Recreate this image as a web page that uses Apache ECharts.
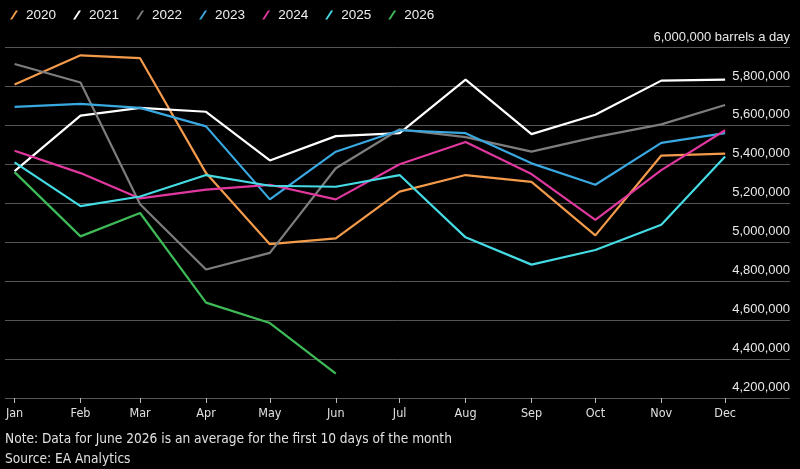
<!DOCTYPE html>
<html>
<head>
<meta charset="utf-8">
<script src="https://cdn.jsdelivr.net/npm/echarts@6/dist/echarts.min.js"></script>
<style>
  html, body { margin: 0; padding: 0; background: #000; }
  #chart { width: 800px; height: 469px; }
</style>
</head>
<body>
<div id="chart"></div>
<script>
// month labels and the day of year each month starts on
const months = ['Jan', 'Feb', 'Mar', 'Apr', 'May', 'Jun', 'Jul', 'Aug', 'Sep', 'Oct', 'Nov', 'Dec'];
const monthStart = [0, 31, 59, 90, 120, 151, 181, 212, 243, 273, 304, 334];

const years = ['2020', '2021', '2022', '2023', '2024', '2025', '2026'];
const y2020 = [5810000, 5960000, 5945000, 5355000, 4990000, 5020000, 5260000, 5345000, 5310000, 5035000, 5445000, 5455000];
const y2021 = [5365000, 5650000, 5690000, 5670000, 5420000, 5545000, 5560000, 5835000, 5555000, 5655000, 5830000, 5835000];
const y2022 = [5915000, 5820000, 5195000, 4860000, 4945000, 5380000, 5580000, 5540000, 5465000, 5540000, 5605000, 5705000];
const y2023 = [5695000, 5710000, 5690000, 5595000, 5220000, 5465000, 5575000, 5560000, 5405000, 5295000, 5510000, 5560000];
const y2024 = [5470000, 5355000, 5225000, 5270000, 5295000, 5220000, 5400000, 5515000, 5350000, 5115000, 5370000, 5575000];
const y2025 = [5410000, 5185000, 5235000, 5345000, 5290000, 5285000, 5345000, 5025000, 4885000, 4960000, 5090000, 5440000];
const y2026 = [5360000, 5030000, 5150000, 4690000, 4585000, 4325000];
const seriesValues = [y2020, y2021, y2022, y2023, y2024, y2025, y2026];

const colors = ['#f39a4b', '#ffffff', '#7d7d7d', '#3aa8e0', '#e0389e', '#45dbe4', '#3ebb57'];

const font = "'Liberation Sans', Arial, sans-serif";
const narrow = "'Liberation Sans Narrow', 'DejaVu Sans Condensed', 'Liberation Sans', sans-serif";

function commas(v) {
  return String(v).replace(/\B(?=(\d{3})+(?!\d))/g, ',');
}

const chart = echarts.init(document.getElementById('chart'));

chart.setOption({
  backgroundColor: '#000',
  animation: false,
  color: colors,
  legend: {
    left: 5,
    top: 3,
    itemWidth: 8,
    itemHeight: 9,
    itemGap: 17,
    icon: 'path://M0,9 L5.8,0 L8,0 L2.2,9 Z',
    textStyle: { color: '#f0f0f0', fontSize: 13.5, fontFamily: font, padding: [0, 0, 0, 3] },
    data: years
  },
  grid: { left: 5, right: 10, top: 47.5, bottom: 71 },
  xAxis: {
    type: 'value',
    min: -4.5,
    max: 364.5,
    splitLine: { show: false },
    axisLine: { show: false },
    axisTick: {
      show: true,
      customValues: monthStart,
      length: 5,
      lineStyle: { color: '#bbb' }
    },
    axisLabel: {
      customValues: monthStart,
      formatter: v => months[monthStart.indexOf(v)],
      color: '#e0e0e0',
      fontSize: 12.5,
      fontFamily: narrow,
      margin: 9
    }
  },
  yAxis: {
    type: 'value',
    position: 'right',
    min: 4200000,
    max: 6000000,
    interval: 200000,
    axisLine: { show: false },
    axisTick: { show: false },
    splitLine: { lineStyle: { color: '#555', width: 1 } },
    axisLabel: {
      inside: true,
      margin: 0,
      verticalAlign: 'bottom',
      padding: [0, 0, 4, 0],
      color: '#e8e8e8',
      fontSize: 13,
      fontFamily: font,
      formatter: v => commas(v) + (v === 6000000 ? ' barrels a day' : '')
    }
  },
  series: years.map((name, i) => ({
    name: name,
    type: 'line',
    showSymbol: false,
    symbol: 'none',
    lineStyle: { width: 2.2, color: colors[i] },
    data: seriesValues[i].map((v, m) => [monthStart[m], v])
  })),
  graphic: [
    {
      type: 'text', left: 5, top: 432,
      style: {
        text: 'Note: Data for June 2026 is an average for the first 10 days of the month',
        fill: '#e0e0e0', font: '13.6px ' + narrow
      }
    },
    {
      type: 'text', left: 5, top: 452,
      style: { text: 'Source: EA Analytics', fill: '#e0e0e0', font: '13.6px ' + narrow }
    }
  ]
});
</script>
</body>
</html>
